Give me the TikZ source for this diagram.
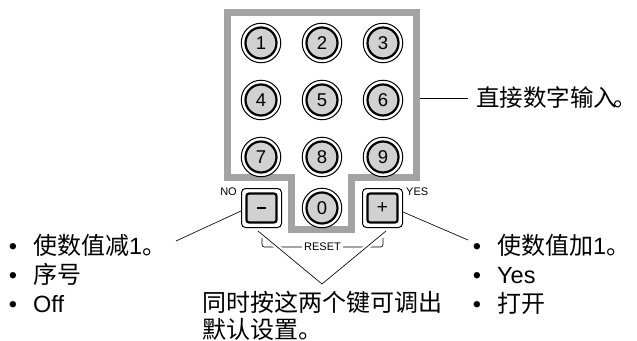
\documentclass[tikz,border=0pt]{standalone}
\usepackage{fontspec}
\setmainfont{Liberation Sans}
\newfontfamily\cjk{Noto Sans CJK SC}
\newcommand\latn{\normalfont\fontsize{23.5}{28}\selectfont}
\begin{document}
\begin{tikzpicture}[x=1pt,y=-1pt,
  frame/.style={draw=black!36, line width=6.2pt, line join=miter},
  keyo/.style={circle, draw, line width=1pt, fill=white, minimum size=39.5pt, inner sep=0pt},
  keyi/.style={circle, draw, line width=2.2pt, fill=black!18, minimum size=31pt, inner sep=0pt, font=\normalfont\fontsize{18.5}{19}\selectfont},
  sqo/.style={rectangle, rounded corners=4pt, draw, line width=1pt, fill=white, minimum width=40pt, minimum height=39pt, inner sep=0pt},
  sqi/.style={rectangle, rounded corners=2.5pt, draw, line width=2.2pt, fill=black!18, minimum width=30pt, minimum height=29pt, inner sep=0pt, font=\normalfont\fontsize{19}{20}\selectfont},
  big/.style={anchor=base west, inner sep=0pt, font=\cjk\fontsize{24}{28}\selectfont},
  bul/.style={anchor=base, inner sep=0pt, font=\latn},
  small/.style={inner sep=0pt, font=\normalfont\fontsize{11}{12}\selectfont},
  conn/.style={draw=black, line width=0.65pt},
  halo/.style={draw=white, line width=5pt}
]
\useasboundingbox (0,0) rectangle (637,340);

% frame
\draw[frame] (227.5,12.5) -- (416.5,12.5) -- (416.5,177.5) -- (351.5,177.5) -- (351.5,229.5)
  -- (291.5,229.5) -- (291.5,177.5) -- (227.5,177.5) -- cycle;

% number keys
\foreach \n/\x/\y in {1/261/43, 2/322/43, 3/383/43, 4/261/100, 5/322/100, 6/383/100,
                      7/261/157, 8/322/157, 9/383/157, 0/322/208} {
  \node[keyo] (ko\n) at (\x,\y) {};
  \node[keyi] (k\n) at (ko\n) {\n};
}

% minus / plus keys
\node[sqo] (mo) at (261.5,208) {};
\node[sqi] (mi) at (mo) {\rule{9pt}{2.6pt}};
\node[sqo] (po) at (382.5,208) {};
\node[sqi] (pi) at (po) {+};

\node[small, anchor=east] (no) at (237,192) {NO};
\node[small, anchor=west] (yes) at (406,192) {YES};

% RESET bracket
\node[small, inner sep=2.2pt, fill=white] (rs) at (322.5,247) {RESET};
\draw[conn, rounded corners=2.5pt] (262,238) -- (262,247) -- (rs.west);
\draw[conn, rounded corners=2.5pt] (383,238) -- (383,247) -- (rs.east);

% texts
\node[big, font=\cjk\fontsize{23.5}{28}\selectfont] (t1) at (476,106.5) {直接数字输入\kern-0.15em 。};

\node[bul] (lb1) at (13,254.5) {•};
\node[big] (l1) at (33,254.5) {使数值减{\latn 1}。};
\node[bul] (lb2) at (13,283.5) {•};
\node[big] (l2) at (33,283.5) {序号};
\node[bul] (lb3) at (13,312.5) {•};
\node[big, font=\latn] (l3) at (33,312.5) {Off};

\node[bul] (rb1) at (477,254.5) {•};
\node[big] (r1) at (497,254.5) {使数值加{\latn 1}。};
\node[bul] (rb2) at (477,283.5) {•};
\node[big, font=\latn] (r2) at (497,283.5) {Yes};
\node[bul] (rb3) at (477,312) {•};
\node[big] (r3) at (497,312) {打开};

\node[big] (c1) at (202,311.5) {同时按这两个键可调出};
\node[big, text depth=0pt] (c2) at (202,338) {默认设置。};

% connectors
\coordinate (fr) at (419.6,98);
\draw[conn, shorten >=8pt] (fr) -- (fr -| t1.west);

\coordinate (la) at (176,241);
\draw[conn] ([yshift=-3pt]mo.west) -- (la);
\coordinate (ra) at (468,240);
\draw[conn] ([yshift=-4pt]po.east) -- (ra);

\coordinate (vl) at (258,231);
\coordinate (vr) at (386,231);
\coordinate (vx) at (322,284);
\draw[halo, shorten <=4pt, shorten >=4pt] (vl) -- (vx);
\draw[halo, shorten <=4pt, shorten >=4pt] (vr) -- (vx);
\draw[conn] (vl) -- (vx) -- (vr);
\end{tikzpicture}
\end{document}
